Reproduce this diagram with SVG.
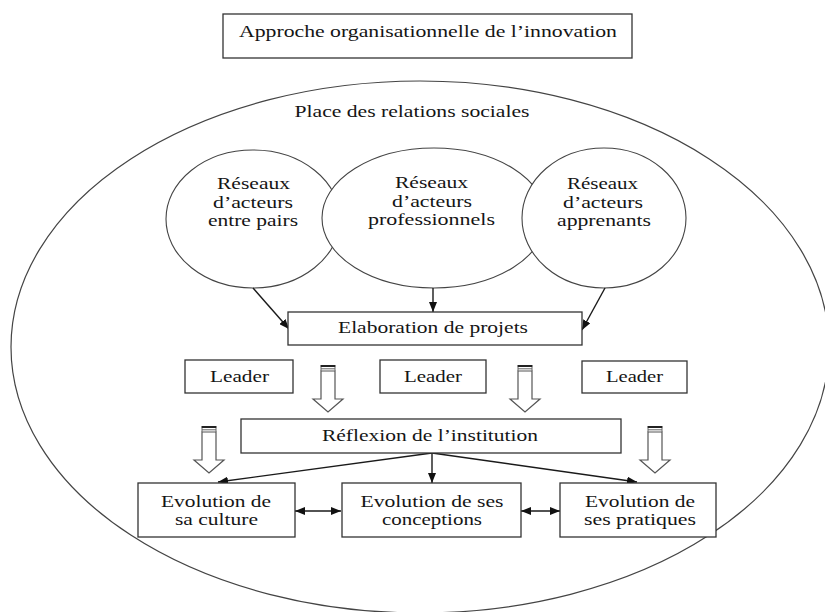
<svg xmlns="http://www.w3.org/2000/svg" xmlns:xlink="http://www.w3.org/1999/xlink" width="825" height="612" viewBox="0 0 825 612">
<style>
text{font-family:"Liberation Serif","Times New Roman",serif;font-size:17px;fill:#151515;text-anchor:middle}
.box{fill:#fff;stroke:#333;stroke-width:1.3}
.circ{fill:#fff;stroke:#444;stroke-width:1.1}
.con{fill:none;stroke:#1a1a1a;stroke-width:1.4}
</style>
<defs>
<marker id="ah" viewBox="0 0 10 8" refX="10" refY="4" markerWidth="10" markerHeight="8" markerUnits="userSpaceOnUse" orient="auto-start-reverse">
<path d="M0,0 L10,4 L0,8 Z" fill="#111"/>
</marker>
<g id="blk">
<path d="M-7,6 H7 V34 H15 L0,47 L-15,34 H-7 Z" fill="#fff" stroke="#555" stroke-width="1.2"/>
<rect x="-7.5" y="0" width="15" height="2" fill="#222"/>
<path d="M-7,3.8 H7 M-7,2 V6 M7,2 V6" stroke="#666" stroke-width="1"/>
</g>
</defs>
<rect width="825" height="612" fill="#fff"/>

<g id="title">
<rect class="box" x="223" y="14" width="409" height="44"/>
<text x="428" y="37" textLength="378" lengthAdjust="spacingAndGlyphs">Approche organisationnelle de l’innovation</text>
</g>

<g id="place">
<ellipse cx="420" cy="347" rx="409" ry="266" fill="none" stroke="#444" stroke-width="1.2"/>
<text x="412" y="117" textLength="235" lengthAdjust="spacingAndGlyphs">Place des relations sociales</text>
</g>

<g id="reseau-pairs">
<ellipse class="circ" cx="253" cy="219" rx="87" ry="69"/>
<text x="253.5" y="189" textLength="73" lengthAdjust="spacingAndGlyphs">Réseaux</text>
<text x="253" y="208" textLength="80" lengthAdjust="spacingAndGlyphs">d’acteurs</text>
<text x="253" y="226" textLength="90" lengthAdjust="spacingAndGlyphs">entre pairs</text>
</g>

<g id="reseau-pro">
<ellipse class="circ" cx="434" cy="218" rx="112" ry="70"/>
<text x="431.5" y="188" textLength="73" lengthAdjust="spacingAndGlyphs">Réseaux</text>
<text x="432" y="207" textLength="80" lengthAdjust="spacingAndGlyphs">d’acteurs</text>
<text x="431.5" y="225" textLength="127" lengthAdjust="spacingAndGlyphs">professionnels</text>
</g>

<g id="reseau-apprenants">
<ellipse class="circ" cx="604" cy="218" rx="82" ry="70"/>
<text x="602.5" y="189" textLength="71" lengthAdjust="spacingAndGlyphs">Réseaux</text>
<text x="603" y="208" textLength="80" lengthAdjust="spacingAndGlyphs">d’acteurs</text>
<text x="604" y="226" textLength="94" lengthAdjust="spacingAndGlyphs">apprenants</text>
</g>

<g id="connectors">
<line class="con" x1="253" y1="288" x2="289" y2="329" marker-end="url(#ah)"/>
<line class="con" x1="433" y1="288" x2="433" y2="312" marker-end="url(#ah)"/>
<line class="con" x1="605" y1="288" x2="582" y2="330" marker-end="url(#ah)"/>
<use xlink:href="#blk" x="328" y="365"/>
<use xlink:href="#blk" x="525" y="365"/>
<use xlink:href="#blk" x="209" y="426"/>
<use xlink:href="#blk" x="655" y="426"/>
<line class="con" x1="432" y1="453" x2="218" y2="482" marker-end="url(#ah)"/>
<line class="con" x1="432" y1="453" x2="432" y2="483" marker-end="url(#ah)"/>
<line class="con" x1="432" y1="453" x2="637" y2="482" marker-end="url(#ah)"/>
<line class="con" x1="295" y1="511" x2="341" y2="511" marker-start="url(#ah)" marker-end="url(#ah)"/>
<line class="con" x1="521" y1="511" x2="560" y2="511" marker-start="url(#ah)" marker-end="url(#ah)"/>
</g>

<g id="elaboration">
<rect class="box" x="288" y="312" width="294" height="33"/>
<text x="433" y="333" textLength="190" lengthAdjust="spacingAndGlyphs">Elaboration de projets</text>
</g>

<g id="leader1">
<rect class="box" x="185" y="360" width="108" height="33"/>
<text x="239.5" y="382" textLength="59" lengthAdjust="spacingAndGlyphs">Leader</text>
</g>
<g id="leader2">
<rect class="box" x="380" y="360" width="106" height="33"/>
<text x="433" y="382" textLength="58" lengthAdjust="spacingAndGlyphs">Leader</text>
</g>
<g id="leader3">
<rect class="box" x="582" y="361" width="105" height="32"/>
<text x="634.5" y="382" textLength="57" lengthAdjust="spacingAndGlyphs">Leader</text>
</g>

<g id="reflexion">
<rect class="box" x="241" y="419" width="380" height="34"/>
<text x="430" y="441" textLength="216" lengthAdjust="spacingAndGlyphs">Réflexion de l’institution</text>
</g>

<g id="culture">
<rect class="box" x="138" y="483" width="157" height="54"/>
<text x="216" y="507" textLength="110" lengthAdjust="spacingAndGlyphs">Evolution de</text>
<text x="216.5" y="525" textLength="83" lengthAdjust="spacingAndGlyphs">sa culture</text>
</g>
<g id="conceptions">
<rect class="box" x="342" y="483" width="179" height="54"/>
<text x="432" y="507" textLength="143" lengthAdjust="spacingAndGlyphs">Evolution de ses</text>
<text x="432" y="525" textLength="100" lengthAdjust="spacingAndGlyphs">conceptions</text>
</g>
<g id="pratiques">
<rect class="box" x="560" y="483" width="156" height="54"/>
<text x="640" y="507" textLength="110" lengthAdjust="spacingAndGlyphs">Evolution de</text>
<text x="640" y="525" textLength="112" lengthAdjust="spacingAndGlyphs">ses pratiques</text>
</g>
</svg>
